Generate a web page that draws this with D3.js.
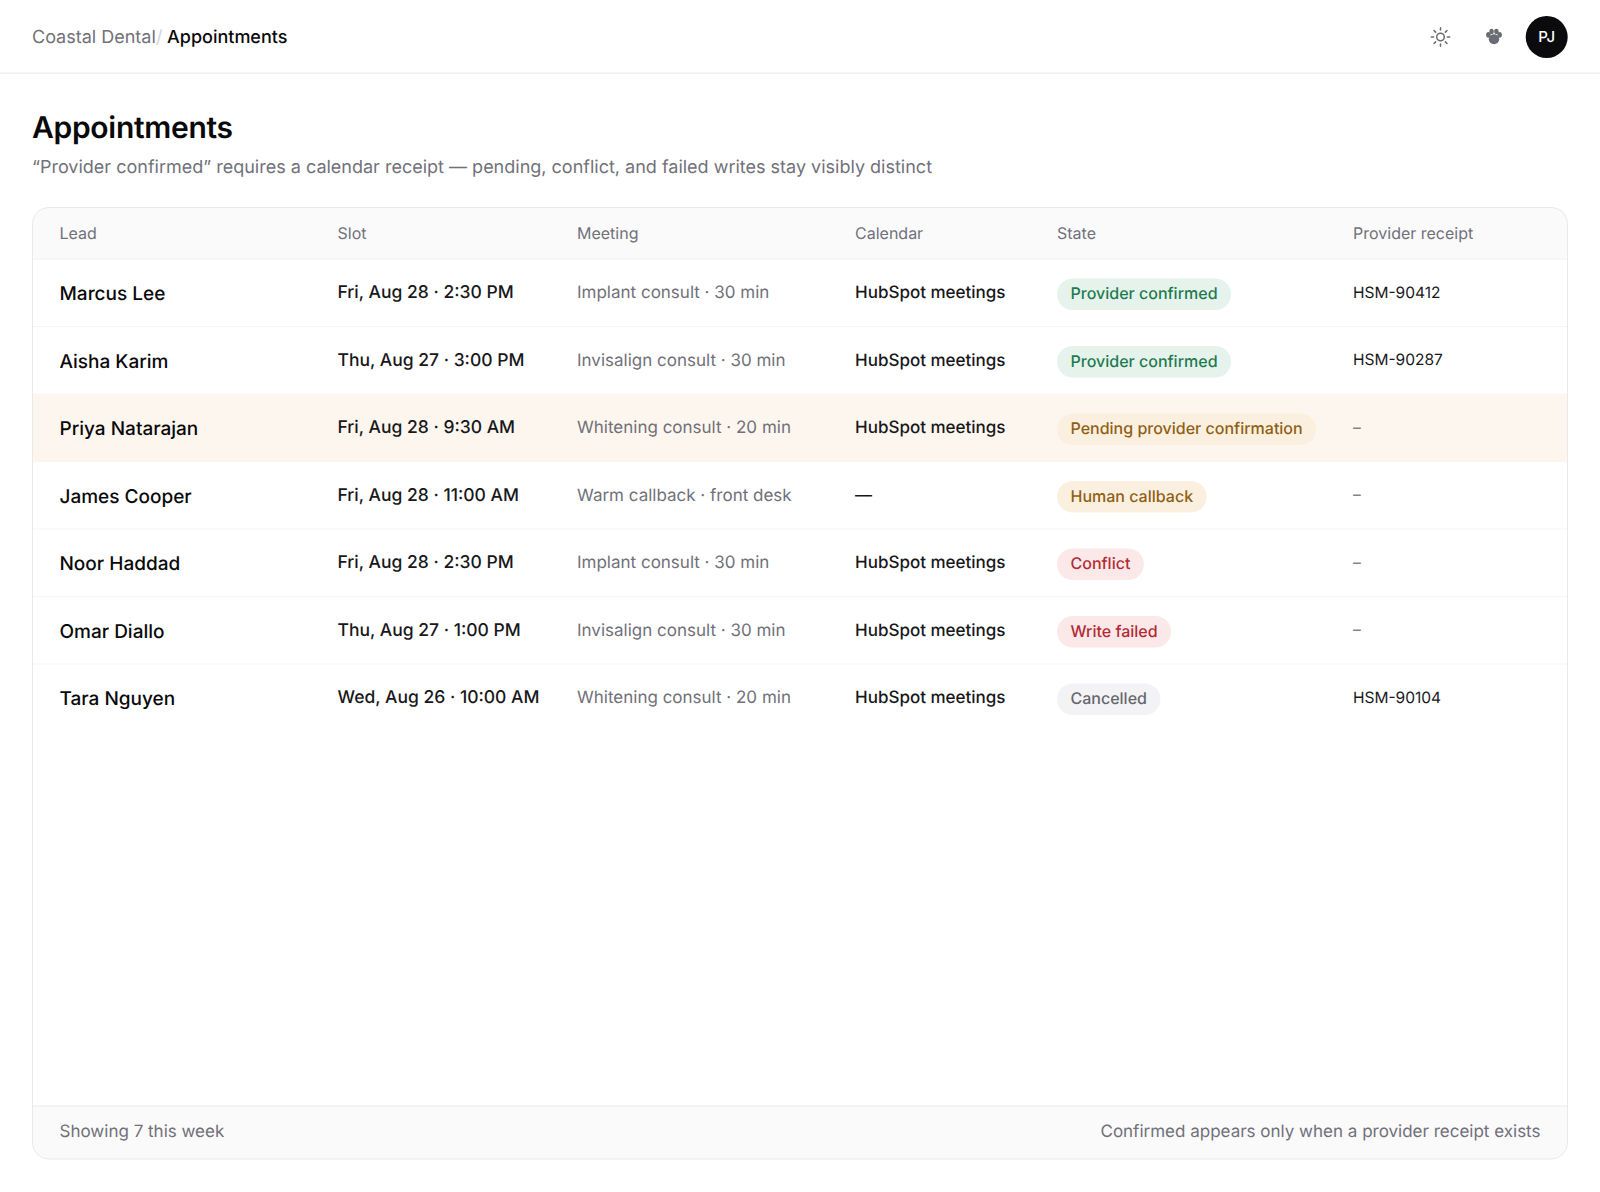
<!DOCTYPE html>
<html><head><meta charset="utf-8">
<script src="https://cdn.jsdelivr.net/npm/d3@7/dist/d3.min.js"></script>
<style>html,body{margin:0;padding:0;background:#fff}svg{display:block}text{font-family:Inter,sans-serif;font-feature-settings:"kern";text-rendering:geometricPrecision}</style>
</head><body><div id="chart"></div>
<script>
const columns = ["Lead","Slot","Meeting","Calendar","State","Provider receipt"];
const leads = ["Marcus Lee","Aisha Karim","Priya Natarajan","James Cooper","Noor Haddad","Omar Diallo","Tara Nguyen"];
const slots = ["Fri, Aug 28 · 2:30 PM","Thu, Aug 27 · 3:00 PM","Fri, Aug 28 · 9:30 AM","Fri, Aug 28 · 11:00 AM","Fri, Aug 28 · 2:30 PM","Thu, Aug 27 · 1:00 PM","Wed, Aug 26 · 10:00 AM"];
const meetings = ["Implant consult · 30 min","Invisalign consult · 30 min","Whitening consult · 20 min","Warm callback · front desk","Implant consult · 30 min","Invisalign consult · 30 min","Whitening consult · 20 min"];
const calendars = ["HubSpot meetings","HubSpot meetings","HubSpot meetings","—","HubSpot meetings","HubSpot meetings","HubSpot meetings"];
const states = ["Provider confirmed","Provider confirmed","Pending provider confirmation","Human callback","Conflict","Write failed","Cancelled"];
const receipts = ["HSM-90412","HSM-90287","–","–","–","–","HSM-90104"];
const stateBg = {"Provider confirmed":"#e6f3ec","Pending provider confirmation":"#fbf0df","Human callback":"#fbf0df","Conflict":"#fbe8e9","Write failed":"#fbe8e9","Cancelled":"#f3f3f5"};
const stateFg = {"Provider confirmed":"#1f7a4f","Pending provider confirmation":"#8f5f14","Human callback":"#8f5f14","Conflict":"#b32b33","Write failed":"#b32b33","Cancelled":"#66666e"};

const W=1600,H=1192, ink="#09090b", muted="#71717a", line="#f0f0f2", edge="#e9e9ec";
const x=d3.scaleOrdinal().domain(columns).range([59.5,337.5,577,855,1057,1353]);
const y=d3.scaleBand().domain(leads).range([259,731.5]);
const svg=d3.select("#chart").append("svg").attr("width",W).attr("height",H).attr("viewBox",[0,0,W,H]);
const txt=(g,s,px,py,size,weight,fill)=>g.append("text").text(s).attr("x",px).attr("y",py).attr("font-size",size).attr("font-weight",weight).attr("fill",fill);

// top bar
svg.append("rect").attr("x",0).attr("y",72.5).attr("width",W).attr("height",1.2).attr("fill","#ececee");
txt(svg,"Coastal Dental",32,42.5,18,400,muted);
txt(svg,"/",156,42.5,18,400,"#d4d4d8");
txt(svg,"Appointments",167,42.5,18,500,ink);

// sun icon
const sun=svg.append("g").attr("transform","translate(1440.5,37)").attr("stroke","#6b6b73").attr("fill","none").attr("stroke-width",1.5).attr("stroke-linecap","round");
sun.append("circle").attr("r",3.8);
d3.range(8).forEach(i=>{const a=i*Math.PI/4;sun.append("line").attr("x1",6.9*Math.cos(a)).attr("y1",6.9*Math.sin(a)).attr("x2",9.2*Math.cos(a)).attr("y2",9.2*Math.sin(a));});
// paw icon
const paw=svg.append("g").attr("transform","translate(1494,37)").attr("fill","#6b6b73");
[[-5.6,-2.2,2.3,2.9],[-2.4,-5.6,2.2,2.7],[2.4,-5.6,2.2,2.7],[5.6,-2.2,2.3,2.9],[0,2.2,5.2,5]].forEach(e=>paw.append("ellipse").attr("cx",e[0]).attr("cy",e[1]).attr("rx",e[2]).attr("ry",e[3]));
// avatar
svg.append("circle").attr("cx",1546.7).attr("cy",37).attr("r",21).attr("fill","#0b0b0d");
txt(svg,"PJ",1546.7,42,15,500,"#fff").attr("text-anchor","middle");

// heading
txt(svg,"Appointments",32,138,30,600,ink).attr("letter-spacing",-0.3);
txt(svg,"“Provider confirmed” requires a calendar receipt — pending, conflict, and failed writes stay visibly distinct",32,173,18,400,muted);

// card
const cx=32.5,cy=207.5,cw=1535,ch=951.5,r=16;
const defs=svg.append("defs");
defs.append("clipPath").attr("id","card").append("rect").attr("x",cx).attr("y",cy).attr("width",cw).attr("height",ch).attr("rx",r);
const body=svg.append("g").attr("clip-path","url(#card)");
body.append("rect").attr("x",cx).attr("y",cy).attr("width",cw).attr("height",51.5).attr("fill","#fafafb");
body.append("rect").attr("x",cx).attr("y",1106).attr("width",cw).attr("height",54).attr("fill","#fafafb");
body.append("rect").attr("x",cx).attr("y",258.5).attr("width",cw).attr("height",1).attr("fill",line);
body.append("rect").attr("x",cx).attr("y",1105.5).attr("width",cw).attr("height",1).attr("fill",edge);

const rows=body.selectAll("g.row").data(leads).join("g").attr("class","row");
rows.append("rect").attr("x",cx).attr("y",d=>y(d)).attr("width",cw).attr("height",y.bandwidth())
  .attr("fill",(d,i)=>states[i].startsWith("Pending")?"#fdf6ee":"none");
rows.filter((d,i)=>i<leads.length-1).append("rect").attr("x",cx).attr("y",d=>y(d)+y.bandwidth()-0.5).attr("width",cw).attr("height",1).attr("fill","#f5f5f6");
svg.append("rect").attr("x",cx).attr("y",cy).attr("width",cw).attr("height",ch).attr("rx",r).attr("fill","none").attr("stroke",edge).attr("stroke-width",1);

// header labels
svg.selectAll("text.col").data(columns).join("text").attr("class","col").text(d=>d)
  .attr("x",d=>x(d)).attr("y",238.5).attr("font-size",16).attr("font-weight",400).attr("fill",muted);

leads.forEach((d,i)=>{
  const top=y(d);
  txt(svg,d,x("Lead"),top+41,19,500,ink);
  txt(svg,slots[i],x("Slot"),top+39,17.5,500,"#18181b");
  txt(svg,meetings[i],x("Meeting"),top+39,17,400,muted);
  txt(svg,calendars[i],x("Calendar"),top+39,17,500,"#18181b");
  const pill=svg.append("g");
  const label=txt(pill,states[i],x("State")+13.5,top+40,16,500,stateFg[states[i]]);
  const w=label.node().getComputedTextLength()+27;
  pill.insert("rect","text").attr("x",x("State")).attr("y",top+19.5).attr("width",w).attr("height",31.5).attr("rx",15.75).attr("fill",stateBg[states[i]]);
  txt(svg,receipts[i],x("Provider receipt"),top+38.5,15.5,400,receipts[i]==="–"?muted:"#18181b").attr("font-family","'DejaVu Sans Mono',monospace");
});

// footer
txt(svg,"Showing 7 this week",59.5,1137,17,400,muted);
txt(svg,"Confirmed appears only when a provider receipt exists",1540.5,1137,17,400,muted).attr("text-anchor","end");
</script></body></html>
